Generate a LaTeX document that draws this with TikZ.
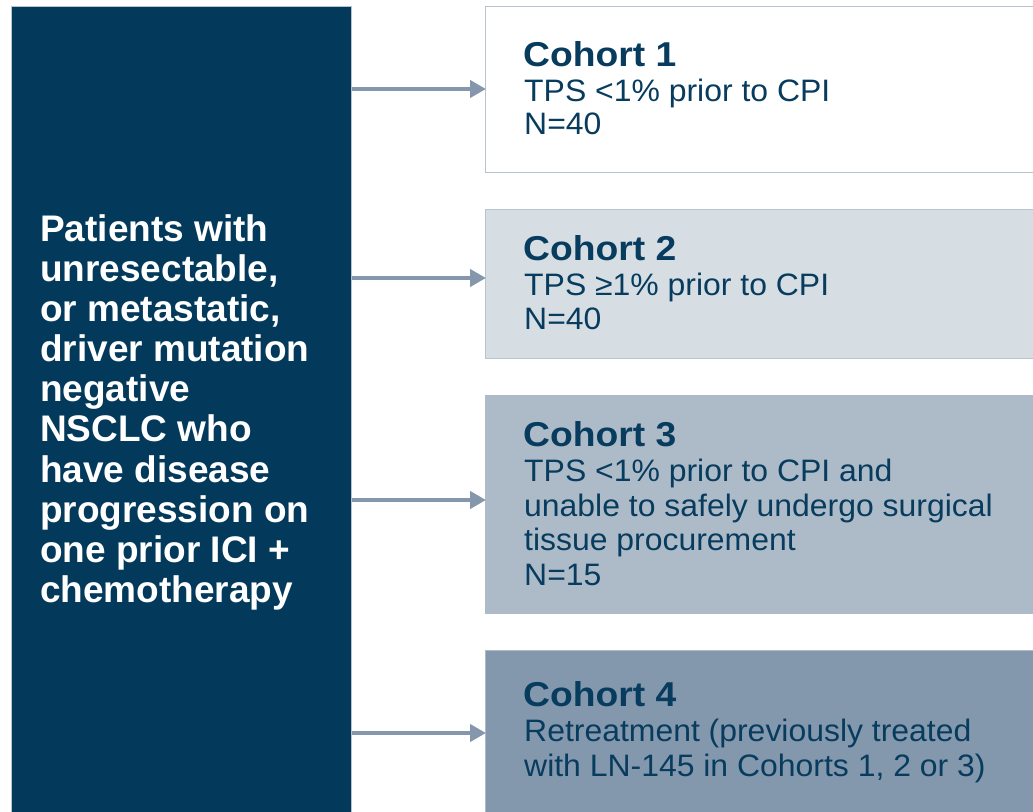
\documentclass[tikz,border=0pt]{standalone}
\usepackage{fontspec}
\setmainfont{Liberation Sans}
\newfontfamily\ttlfont[FakeStretch=1.08]{Liberation Sans}
\newfontfamily\bdyfont[FakeStretch=1.03]{Liberation Sans}
\usetikzlibrary{arrows.meta}
\definecolor{navy}{HTML}{033A5C}
\definecolor{txt}{HTML}{083C5E}
\definecolor{arrc}{HTML}{8497AC}
\definecolor{edge}{HTML}{B8C3CE}
\definecolor{fillA}{HTML}{FFFFFF}
\definecolor{fillB}{HTML}{D6DEE4}
\definecolor{fillC}{HTML}{ADBBC8}
\definecolor{fillD}{HTML}{8398AD}
\tikzset{
  cbox/.style={draw=edge, line width=1.2pt, rectangle, inner sep=0pt, anchor=north west, minimum width=600pt},
  arr/.style={draw=arrc, line width=4.5pt, -{Triangle[length=16pt,width=17pt]}, shorten >=-1pt},
  ttl/.style={anchor=base west, inner sep=0pt, text=txt, font=\fontsize{34.5}{40}\ttlfont\bfseries},
  bdy/.style={anchor=base west, inner sep=0pt, text=txt, font=\fontsize{31}{34.5}\bdyfont},
  lft/.style={anchor=base west, inner sep=0pt, text=white, font=\fontsize{37}{40.1}\selectfont\bfseries}
}
\begin{document}
\begin{tikzpicture}[x=1pt,y=-1pt]
\useasboundingbox (0,0) rectangle (1033,811);
\clip (0,0) rectangle (1033,811);
\fill[white] (0,0) rectangle (1033,811);
% left box
\node[draw=edge, fill=navy, line width=1.2pt, rectangle, inner sep=0pt, anchor=north west, minimum width=340pt, minimum height=820pt] (pat) at (11,6) {};
\foreach \t [count=\i from 0] in {Patients with,{unresectable,},{or metastatic,},driver mutation,negative,NSCLC who,have disease,progression on,one prior ICI +,chemotherapy}
  \node[lft] (l\i) at (40,241.7+40.05*\i) {\t};
% cohort boxes
\node[cbox, fill=fillA, minimum height=166pt] (c1) at (485,6) {};
\node[cbox, fill=fillB, minimum height=149pt] (c2) at (485,209) {};
\node[cbox, fill=fillC, minimum height=218pt, draw=fillC] (c3) at (485,395) {};
\node[cbox, fill=fillD, minimum height=200pt, draw=edge!80!fillD] (c4) at (485,650) {};
% texts
\node[ttl] (t1) at (523,66.7) {Cohort 1};
\node[bdy] (b1a) at (524,101.7) {TPS <1\% prior to CPI};
\node[bdy] (b1b) at (524,134.5) {N=40};
\node[ttl] (t2) at (523,260) {Cohort 2};
\node[bdy] (b2a) at (524,295) {TPS ≥1\% prior to CPI};
\node[bdy] (b2b) at (524,329) {N=40};
\node[ttl] (t3) at (523,446) {Cohort 3};
\node[bdy] (b3a) at (524,481.5) {TPS <1\% prior to CPI and};
\node[bdy] (b3b) at (524,516.3) {unable to safely undergo surgical};
\node[bdy] (b3c) at (524,550.5) {tissue procurement};
\node[bdy] (b3d) at (524,585) {N=15};
\node[ttl] (t4) at (523,706) {Cohort 4};
\node[bdy] (b4a) at (524,741) {Retreatment (previously treated};
\node[bdy] (b4b) at (524,776) {with LN-145 in Cohorts 1, 2 or 3)};
% arrows
\coordinate (a1) at (0,89);
\coordinate (a2) at (0,278);
\coordinate (a3) at (0,500);
\coordinate (a4) at (0,733);
\draw[arr] (pat.east |- a1) -- (c1.west |- a1);
\draw[arr] (pat.east |- a2) -- (c2.west |- a2);
\draw[arr] (pat.east |- a3) -- (c3.west |- a3);
\draw[arr] (pat.east |- a4) -- (c4.west |- a4);
\end{tikzpicture}
\end{document}
